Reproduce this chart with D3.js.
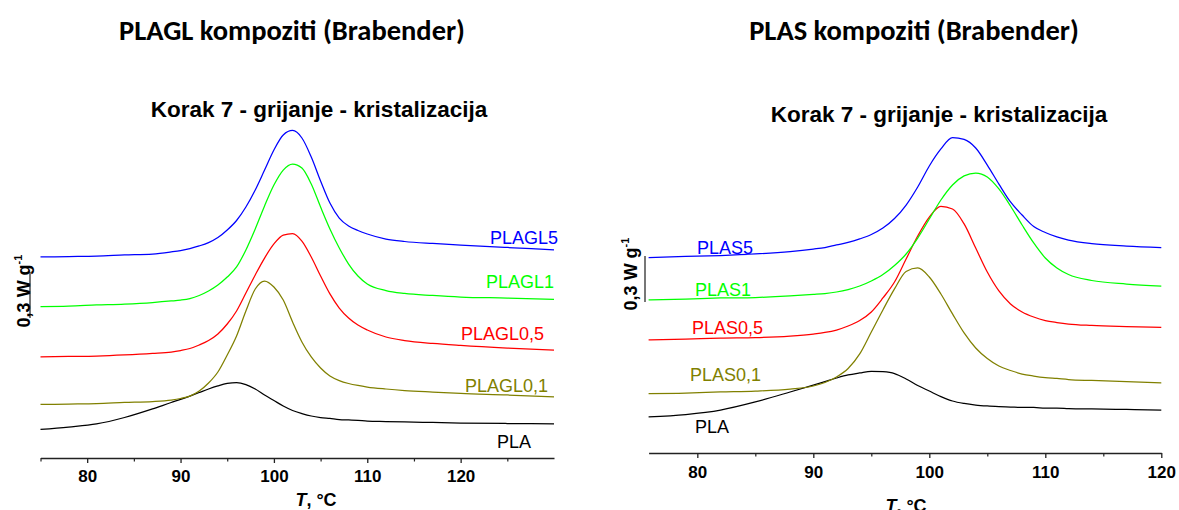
<!DOCTYPE html>
<html>
<head>
<meta charset="utf-8">
<script src="https://cdn.jsdelivr.net/npm/d3@7"></script>
<style>
  html, body { margin: 0; padding: 0; background: #ffffff; }
  svg { display: block; }
</style>
</head>
<body>
<svg id="chart" width="1179" height="510"></svg>
<script>
// ---- PLAGL composites: temperature grid (°C) and stacked heat-flow curves (W/g, offset) ----
const tempPLAGL = [75,78,81,84,87,89,90,91,92,93,94,95,96,97,98,99,100,101,102,103,104,105,106,107,108,109,110,112,114,117,120,125,130];
const plaglPLA  = [0.186,0.202,0.222,0.264,0.320,0.362,0.382,0.404,0.427,0.450,0.470,0.486,0.492,0.479,0.450,0.411,0.375,0.339,0.310,0.290,0.274,0.264,0.258,0.251,0.248,0.245,0.241,0.238,0.235,0.232,0.228,0.225,0.222];
const plagl01   = [0.349,0.352,0.355,0.362,0.368,0.378,0.388,0.404,0.437,0.489,0.561,0.672,0.796,0.959,1.102,1.154,1.115,1.030,0.887,0.757,0.659,0.587,0.535,0.505,0.486,0.473,0.463,0.450,0.440,0.430,0.421,0.411,0.398];
const plagl05   = [0.659,0.662,0.665,0.672,0.682,0.691,0.701,0.714,0.737,0.766,0.809,0.874,0.959,1.076,1.194,1.304,1.396,1.454,1.464,1.415,1.311,1.187,1.070,0.978,0.913,0.867,0.835,0.789,0.766,0.747,0.734,0.717,0.704];
const plagl1    = [0.988,0.991,0.998,1.004,1.014,1.024,1.030,1.040,1.060,1.089,1.128,1.180,1.246,1.357,1.494,1.644,1.780,1.878,1.917,1.891,1.787,1.637,1.494,1.370,1.265,1.187,1.135,1.092,1.073,1.060,1.050,1.043,1.034];
const plagl5    = [1.311,1.314,1.317,1.324,1.330,1.344,1.353,1.366,1.383,1.405,1.438,1.487,1.549,1.637,1.748,1.878,2.009,2.107,2.136,2.087,1.963,1.807,1.663,1.565,1.513,1.484,1.461,1.428,1.412,1.399,1.389,1.373,1.357];

// ---- PLAS composites ----
const tempPLAS = [75.8,79,82,85,88,90,91,92,93,94,95,96,97,98,99,100,101,102,103,104,105,106,107,108,109,110,111,112,114,117,120];
const plasPLA  = [0.235,0.251,0.280,0.333,0.398,0.443,0.466,0.489,0.509,0.522,0.533,0.530,0.518,0.483,0.440,0.404,0.368,0.339,0.323,0.313,0.307,0.303,0.300,0.297,0.297,0.293,0.293,0.290,0.287,0.284,0.280];
const plas01   = [0.388,0.391,0.398,0.404,0.417,0.437,0.460,0.496,0.551,0.646,0.789,0.933,1.070,1.184,1.207,1.148,1.037,0.907,0.783,0.685,0.616,0.567,0.538,0.515,0.502,0.492,0.486,0.479,0.473,0.466,0.458];
const plas05   = [0.737,0.743,0.750,0.753,0.763,0.776,0.786,0.802,0.828,0.864,0.920,1.011,1.115,1.265,1.415,1.539,1.608,1.591,1.494,1.337,1.180,1.057,0.972,0.920,0.887,0.864,0.851,0.841,0.832,0.825,0.820];
const plas1    = [0.998,1.004,1.011,1.014,1.024,1.034,1.040,1.050,1.066,1.089,1.122,1.164,1.223,1.298,1.402,1.526,1.650,1.748,1.807,1.826,1.800,1.722,1.611,1.487,1.370,1.272,1.207,1.164,1.125,1.102,1.089];
const plas5    = [1.275,1.282,1.288,1.298,1.314,1.330,1.340,1.357,1.373,1.396,1.425,1.467,1.529,1.617,1.735,1.872,1.983,2.057,2.045,1.989,1.878,1.754,1.637,1.552,1.477,1.438,1.409,1.389,1.366,1.350,1.340];

// ---- names, colours, ticks, texts ----
const plaglNames = ["PLA", "PLAGL0,1", "PLAGL0,5", "PLAGL1", "PLAGL5"];
const plasNames  = ["PLA", "PLAS0,1", "PLAS0,5", "PLAS1", "PLAS5"];
const seriesColors = ["#000000", "#808000", "#ff0000", "#00ff00", "#0000ff"];
const majorTicks = [80, 90, 100, 110, 120];
const minorTicksPLAGL = [75, 85, 95, 105, 115, 125];
const minorTicksPLAS  = [85, 95, 105, 115];
const panelTitles = ["PLAGL kompoziti (Brabender)", "PLAS kompoziti (Brabender)"];
const stepTitle = "Korak 7 - grijanje - kristalizacija";
const scaleBarValue = 0.3;   // W/g

const svg = d3.select("#chart");
const PX_PER_WG = 153.33;    // vertical scale: pixels per W/g
const SANS = "'Liberation Sans', Arial, Helvetica, sans-serif";

function drawPanel(p) {
  const g = svg.append("g");
  const x = d3.scaleLinear().domain(p.domain).range([p.x0, p.x1]);
  const y = d3.scaleLinear().domain([0, 2.2]).range([p.axisY, p.axisY - 2.2 * PX_PER_WG]);

  const line = d3.line()
    .x(d => x(d[0]))
    .y(d => y(d[1]))
    .curve(d3.curveMonotoneX);

  // curves
  p.series.forEach((vals, i) => {
    const pts = p.temps.map((t, k) => [t, vals[k]]);
    g.append("path")
      .attr("d", line(pts))
      .attr("fill", "none")
      .attr("stroke", seriesColors[i])
      .attr("stroke-width", 1.25);
  });

  // curve labels
  p.names.forEach((name, i) => {
    const lab = p.labels[i];
    g.append("text")
      .attr("x", lab[0])
      .attr("y", lab[1])
      .attr("text-anchor", p.labelAnchor)
      .attr("dominant-baseline", "central")
      .attr("font-family", SANS)
      .attr("font-size", 18)
      .attr("fill", seriesColors[i])
      .text(name);
  });

  // x axis: major ticks with labels
  const axisMajor = d3.axisBottom(x)
    .tickValues(majorTicks)
    .tickSize(5)
    .tickSizeOuter(0)
    .tickPadding(p.tickPad)
    .tickFormat(d3.format("d"));
  const ga = g.append("g")
    .attr("transform", `translate(0,${p.axisY})`)
    .call(axisMajor);
  ga.select(".domain").attr("stroke", "#222").attr("stroke-width", 1.5);
  ga.selectAll(".tick line").attr("stroke", "#222").attr("stroke-width", 1.3);
  ga.selectAll(".tick text")
    .attr("font-family", SANS)
    .attr("font-weight", "bold")
    .attr("font-size", 17)
    .attr("fill", "#000");

  // x axis: minor ticks
  const axisMinor = d3.axisBottom(x)
    .tickValues(p.minorTicks)
    .tickSize(3.5)
    .tickSizeOuter(0)
    .tickFormat("");
  const gm = g.append("g")
    .attr("transform", `translate(0,${p.axisY})`)
    .call(axisMinor);
  gm.select(".domain").remove();
  gm.selectAll(".tick line").attr("stroke", "#222").attr("stroke-width", 1.2);

  // x axis title: T, °C
  const xt = g.append("text")
    .attr("x", p.xTitle[0])
    .attr("y", p.xTitle[1])
    .attr("text-anchor", "middle")
    .attr("font-family", SANS)
    .attr("font-weight", "bold")
    .attr("font-size", 18)
    .attr("fill", "#000");
  xt.append("tspan").attr("font-style", "italic").text("T");
  xt.append("tspan").text(", °C");

  // scale bar (0,3 W/g) with its rotated label
  g.append("line")
    .attr("x1", p.bar[0]).attr("x2", p.bar[0])
    .attr("y1", y(p.bar[1])).attr("y2", y(p.bar[1] + scaleBarValue))
    .attr("stroke", "#555").attr("stroke-width", 1.6);
  const yl = g.append("text")
    .attr("transform", `translate(${p.yLabel[0]},${p.yLabel[1]}) rotate(-90)`)
    .attr("text-anchor", "middle")
    .attr("font-family", SANS)
    .attr("font-weight", "bold")
    .attr("font-size", 18)
    .attr("fill", "#000");
  yl.append("tspan").text("0,3 W g");
  yl.append("tspan").attr("font-size", 11).attr("dy", -8).text("-1");

  // step subtitle
  g.append("text")
    .attr("x", p.sub[0]).attr("y", p.sub[1])
    .attr("text-anchor", "middle")
    .attr("font-family", SANS)
    .attr("font-weight", "bold")
    .attr("font-size", 22.5)
    .attr("fill", "#000")
    .text(stepTitle);

  // panel title
  g.append("text")
    .attr("x", p.title[0]).attr("y", p.title[1])
    .attr("text-anchor", "middle")
    .attr("font-family", "Carlito, Lato, 'Open Sans', sans-serif")
    .attr("font-weight", "bold")
    .attr("font-size", 28.5)
    .attr("fill", "#000")
    .text(p.titleText);
}

drawPanel({
  temps: tempPLAGL,
  series: [plaglPLA, plagl01, plagl05, plagl1, plagl5],
  names: plaglNames,
  domain: [75, 130], x0: 40.5, x1: 554, axisY: 458,
  minorTicks: minorTicksPLAGL, tickPad: 7,
  labelAnchor: "end",
  labels: [[531, 442], [548, 386], [544, 334], [554, 282], [558, 238]],
  xTitle: [316, 506],
  bar: [30, 0.913],
  yLabel: [29.5, 291],
  sub: [319, 117],
  title: [292, 40],
  titleText: panelTitles[0]
});

drawPanel({
  temps: tempPLAS,
  series: [plasPLA, plas01, plas05, plas1, plas5],
  names: plasNames,
  domain: [75.8, 120], x0: 648.6, x1: 1161.3, axisY: 453,
  minorTicks: minorTicksPLAS, tickPad: 8,
  labelAnchor: "start",
  labels: [[695, 427], [690, 375], [692, 328], [695, 290], [697, 248]],
  xTitle: [906, 512],
  bar: [645, 0.985],
  yLabel: [637, 274],
  sub: [939, 122],
  title: [914, 40],
  titleText: panelTitles[1]
});
</script>
</body>
</html>
